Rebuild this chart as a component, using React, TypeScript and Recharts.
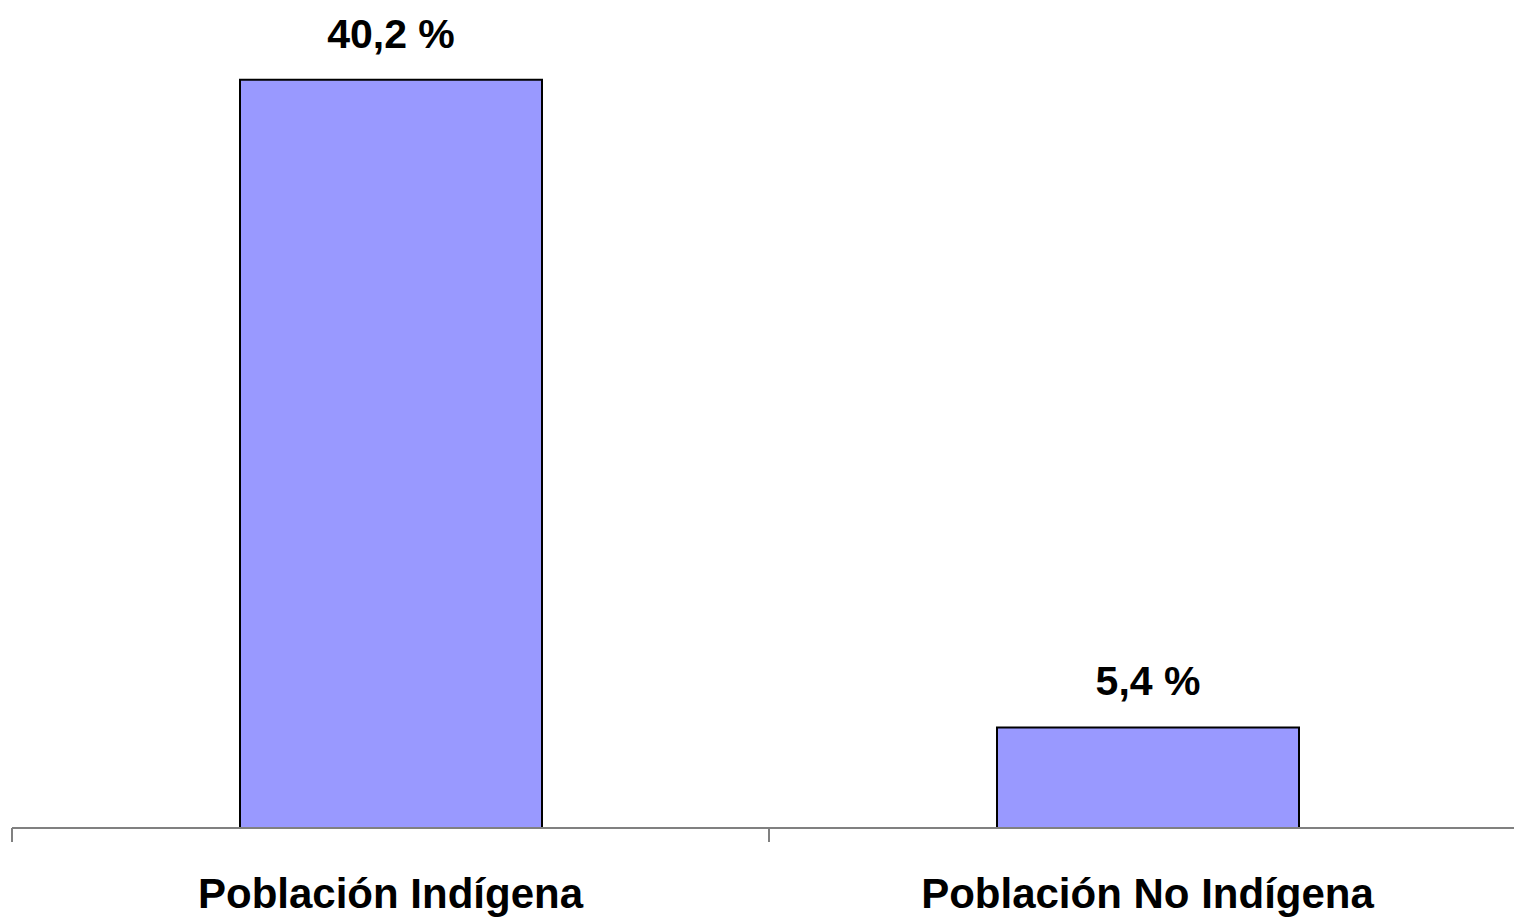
import React from 'react';
import { Bar, BarChart, LabelList, XAxis, YAxis } from 'recharts';

// Categories and their percentages.
const categories = ['Población Indígena', 'Población No Indígena'];
const percentages = [40.2, 5.4];

const data = categories.map((name, i) => ({ name, value: percentages[i] }));

const FONT = '"Liberation Sans", Arial, sans-serif';
const AXIS_GRAY = '#808080';
const LABEL_GAP = 49;

const formatPct = (v: number) => `${String(v).replace('.', ',')} %`;

// Category label plus a tick mark at the left edge of its band.
function CategoryTick(props: any) {
  const { x, y, payload } = props;
  const half = payload?.offset ?? 0;
  const axisY = y - LABEL_GAP - 1;
  return (
    <g>
      <line x1={x - half} x2={x - half} y1={axisY} y2={axisY + 14} stroke={AXIS_GRAY} strokeWidth={2} />
      <text
        x={x}
        y={y}
        dy="0.71em"
        textAnchor="middle"
        fill="#000"
        fontSize={42}
        fontWeight="bold"
        fontFamily={FONT}
      >
        {payload.value}
      </text>
    </g>
  );
}

export default function App() {
  return (
    <div style={{ position: 'absolute', left: 0, top: 0, width: 1514, height: 919, overflow: 'hidden', background: '#fff' }}>
      <BarChart
        width={1526}
        height={919}
        data={data}
        margin={{ top: 9, right: 0, left: 12, bottom: 0 }}
      >
        <YAxis hide domain={[0, 44]} />
        {/* just the axis line, right under the plot */}
        <XAxis
          xAxisId="a_edges"
          type="number"
          domain={[0, 2]}
          allowDataOverflow
          height={1}
          tick={false}
          tickLine={false}
          stroke={AXIS_GRAY}
          strokeWidth={2}
        />
        {/* category labels + band-edge tick marks */}
        <XAxis
          xAxisId="b_cat"
          dataKey="name"
          height={90}
          axisLine={false}
          tickLine={false}
          tickSize={0}
          tickMargin={LABEL_GAP}
          interval={0}
          tick={<CategoryTick />}
        />
        <Bar
          xAxisId="b_cat"
          dataKey="value"
          fill="#9999FF"
          stroke="#000"
          strokeWidth={2}
          barSize={302}
          isAnimationActive={false}
        >
          <LabelList
            dataKey="value"
            position="top"
            offset={32}
            formatter={(v: number) => formatPct(v)}
            style={{ fill: '#000', fontSize: 41, fontWeight: 'bold', fontFamily: FONT }}
          />
        </Bar>
      </BarChart>
    </div>
  );
}
